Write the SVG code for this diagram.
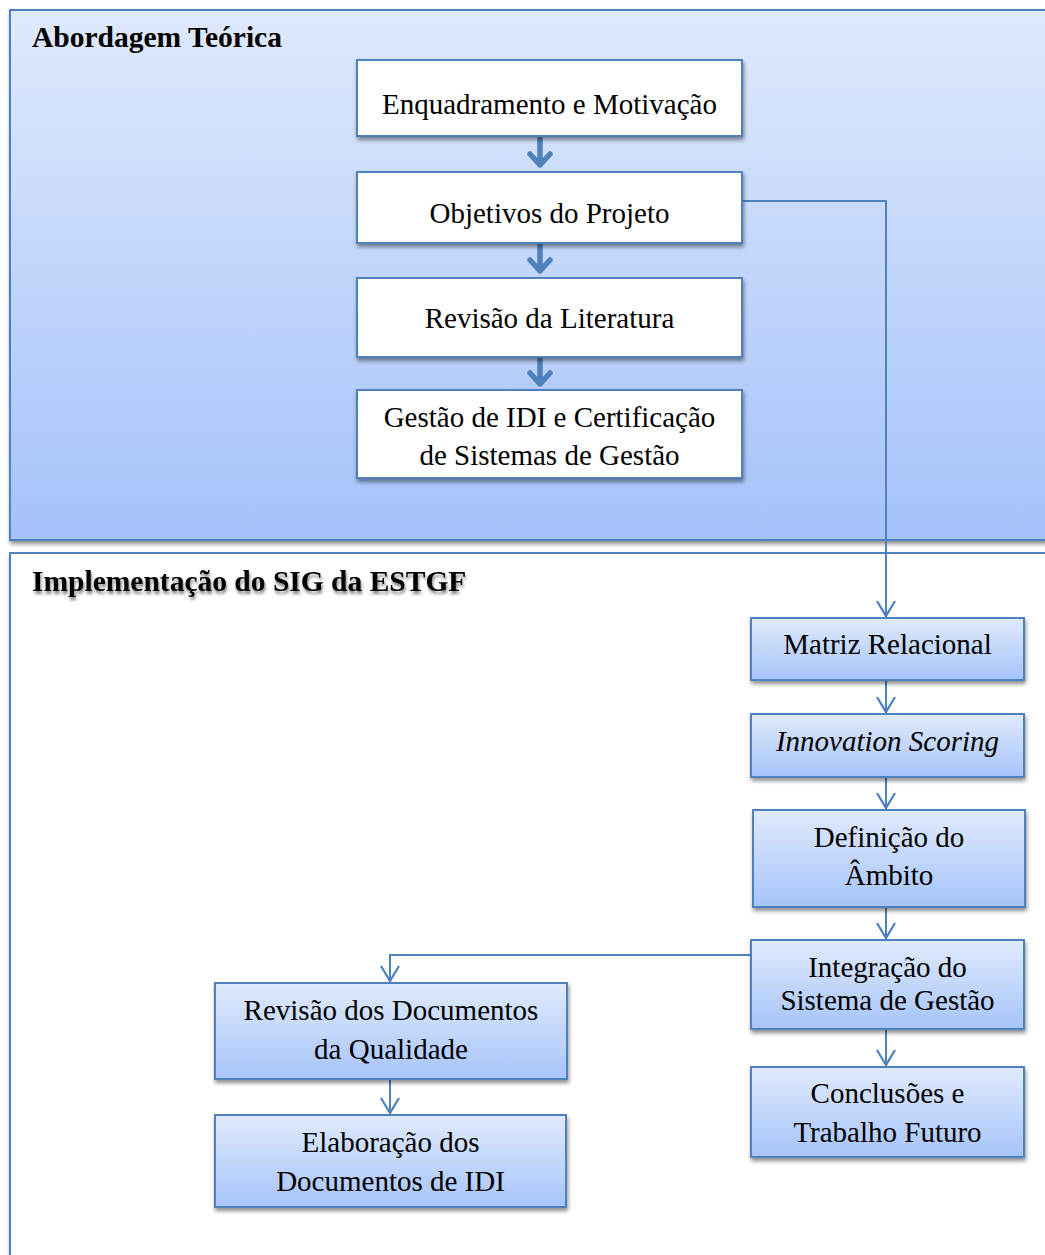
<svg xmlns="http://www.w3.org/2000/svg" width="1045" height="1255" viewBox="0 0 1045 1255">
<style>
.cont{stroke:#4f81bd;stroke-width:2}
.box{stroke:#4f81bd;stroke-width:2}
.wbox{fill:#ffffff}
.gbox{fill:url(#boxGrad)}
.t{font-family:"Liberation Serif","Times New Roman",serif;font-size:29px;fill:#000;text-anchor:middle}
.title{font-family:"Liberation Serif","Times New Roman",serif;font-size:29.5px;font-weight:bold;fill:#000}
.thick{fill:none;stroke:#4f81bd;stroke-width:5.5;stroke-linecap:round;stroke-linejoin:round}
.thin{fill:none;stroke:#4f81bd;stroke-width:2}
</style>
<defs>
<linearGradient id="contGrad" x1="0" y1="0" x2="0" y2="1">
<stop offset="0" stop-color="#dfe9fc"/>
<stop offset="1" stop-color="#a4c2fa"/>
</linearGradient>
<linearGradient id="boxGrad" x1="0" y1="0" x2="0" y2="1">
<stop offset="0" stop-color="#e0eafc"/>
<stop offset="1" stop-color="#a6c4fa"/>
</linearGradient>
<filter id="sh" x="-10%" y="-10%" width="130%" height="140%">
<feGaussianBlur in="SourceAlpha" stdDeviation="2"/>
<feOffset dx="1" dy="3" result="b"/>
<feComponentTransfer><feFuncA type="linear" slope="0.45"/></feComponentTransfer>
<feMerge><feMergeNode/><feMergeNode in="SourceGraphic"/></feMerge>
</filter>
<filter id="tsh" x="-5%" y="-20%" width="110%" height="160%">
<feGaussianBlur in="SourceAlpha" stdDeviation="1.5"/>
<feOffset dx="1" dy="3"/>
<feComponentTransfer><feFuncA type="linear" slope="0.5"/></feComponentTransfer>
<feMerge><feMergeNode/><feMergeNode in="SourceGraphic"/></feMerge>
</filter>
<marker id="openArrow" markerWidth="20" markerHeight="22" viewBox="0 0 20 22" refX="17" refY="11" orient="auto" markerUnits="userSpaceOnUse">
<path d="M2,2 L17,11 L2,20" fill="none" stroke="#4f81bd" stroke-width="2.2"/>
</marker>
</defs>

<g id="container-abordagem">
<rect class="cont" x="10" y="10" width="1045" height="530" fill="url(#contGrad)" filter="url(#sh)"/>
<text class="title" x="32" y="47">Abordagem Teórica</text>
</g>

<g id="container-implementacao">
<rect class="cont" x="10" y="553" width="1045" height="720" fill="#ffffff" filter="url(#sh)"/>
<text class="title" x="32" y="591" filter="url(#tsh)">Implementação do SIG da ESTGF</text>
</g>

<g id="connectors">
<path class="thick" d="M540,139 V165 M530,154 L540,165 L550,154"/>
<path class="thick" d="M540,246 V271 M530,260 L540,271 L550,260"/>
<path class="thick" d="M540,360 V384 M530,373 L540,384 L550,373"/>
<path class="thin" d="M743,201 H886 V616" marker-end="url(#openArrow)"/>
<path class="thin" d="M886,681 V712" marker-end="url(#openArrow)"/>
<path class="thin" d="M886,778 V808" marker-end="url(#openArrow)"/>
<path class="thin" d="M886,908 V938" marker-end="url(#openArrow)"/>
<path class="thin" d="M886,1030 V1065" marker-end="url(#openArrow)"/>
<path class="thin" d="M750,955 H390 V981" marker-end="url(#openArrow)"/>
<path class="thin" d="M390,1080 V1113" marker-end="url(#openArrow)"/>
</g>

<g id="node-enquadramento">
<rect class="box wbox" x="357" y="60" width="385" height="76" filter="url(#sh)"/>
<text class="t" x="549.5" y="114">Enquadramento e Motivação</text>
</g>
<g id="node-objetivos">
<rect class="box wbox" x="357" y="172" width="385" height="71" filter="url(#sh)"/>
<text class="t" x="549.5" y="223">Objetivos do Projeto</text>
</g>
<g id="node-revisao-literatura">
<rect class="box wbox" x="357" y="278" width="385" height="79" filter="url(#sh)"/>
<text class="t" x="549.5" y="328">Revisão da Literatura</text>
</g>
<g id="node-gestao-idi">
<rect class="box wbox" x="357" y="390" width="385" height="88" filter="url(#sh)"/>
<text class="t" x="549.5" y="427">Gestão de IDI e Certificação</text>
<text class="t" x="549.5" y="465">de Sistemas de Gestão</text>
</g>

<g id="node-matriz">
<rect class="box gbox" x="751" y="618" width="273" height="62" filter="url(#sh)"/>
<text class="t" x="887.5" y="654">Matriz Relacional</text>
</g>
<g id="node-innovation">
<rect class="box gbox" x="751" y="714" width="273" height="63" filter="url(#sh)"/>
<text class="t" x="887.5" y="751" font-style="italic">Innovation Scoring</text>
</g>
<g id="node-definicao">
<rect class="box gbox" x="753" y="810" width="272" height="97" filter="url(#sh)"/>
<text class="t" x="889" y="847">Definição do</text>
<text class="t" x="889" y="885">Âmbito</text>
</g>
<g id="node-integracao">
<rect class="box gbox" x="751" y="940" width="273" height="89" filter="url(#sh)"/>
<text class="t" x="887.5" y="977">Integração do</text>
<text class="t" x="887.5" y="1010">Sistema de Gestão</text>
</g>
<g id="node-conclusoes">
<rect class="box gbox" x="751" y="1067" width="273" height="90" filter="url(#sh)"/>
<text class="t" x="887.5" y="1103">Conclusões e</text>
<text class="t" x="887.5" y="1142">Trabalho Futuro</text>
</g>
<g id="node-revisao-documentos">
<rect class="box gbox" x="215" y="983" width="352" height="96" filter="url(#sh)"/>
<text class="t" x="391" y="1020">Revisão dos Documentos</text>
<text class="t" x="391" y="1059">da Qualidade</text>
</g>
<g id="node-elaboracao">
<rect class="box gbox" x="215" y="1115" width="351" height="92" filter="url(#sh)"/>
<text class="t" x="390.5" y="1152">Elaboração dos</text>
<text class="t" x="390.5" y="1191">Documentos de IDI</text>
</g>
</svg>
